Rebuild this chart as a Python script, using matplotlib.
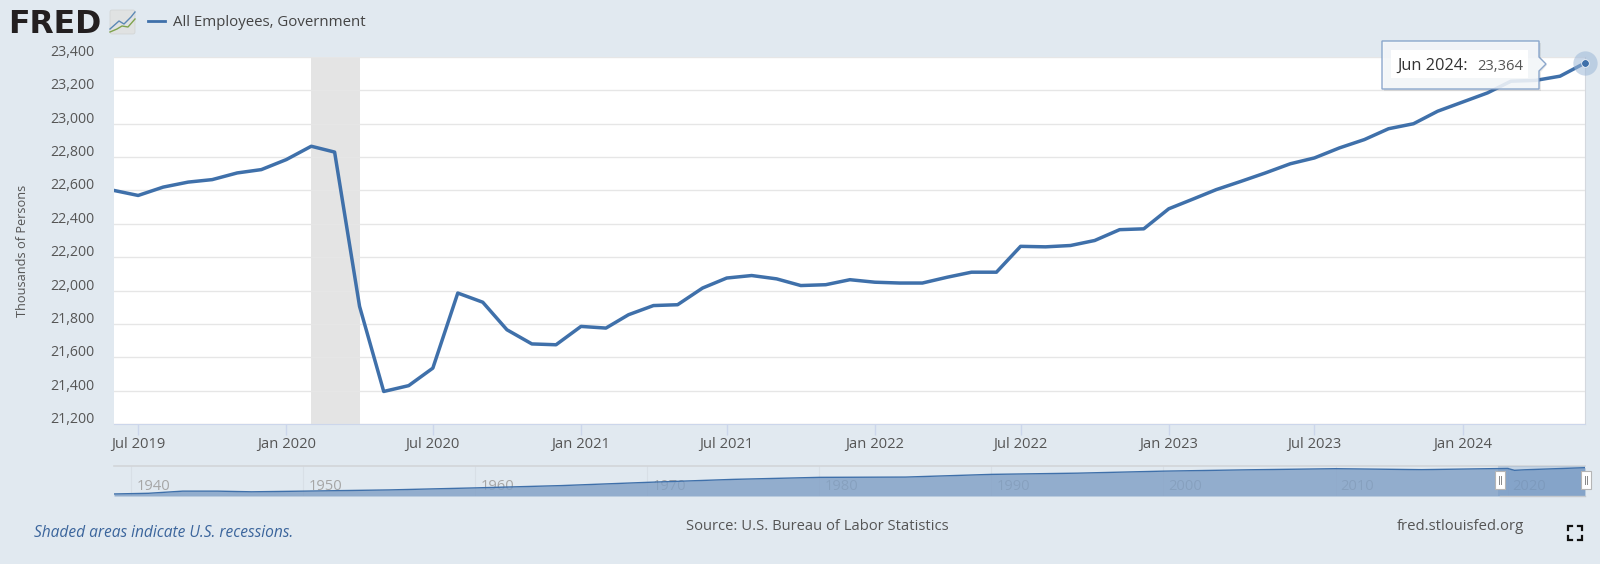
"""
FRED chart: All Employees, Government
"""

import datetime as dt

import matplotlib.dates as mdates
import matplotlib.pyplot as plt
from matplotlib.patches import FancyBboxPatch, Polygon, Rectangle
from matplotlib.transforms import Affine2D

plt.rcParams["font.family"] = ["Open Sans", "DejaVu Sans"]

###############
# - DATA    - #
###############

start_year = 2019
start_month = 6
values = [
    22600, 22570, 22620, 22650, 22665, 22705, 22725,
    22785, 22865, 22830, 21905, 21395, 21430, 21535, 21985, 21930, 21765, 21680, 21675,
    21785, 21775, 21855, 21910, 21915, 22015, 22075, 22090, 22070, 22030, 22035, 22065,
    22050, 22045, 22045, 22080, 22110, 22110, 22265, 22262, 22270, 22300, 22365, 22370,
    22490, 22550, 22605, 22655, 22705, 22760, 22795, 22855, 22905, 22970, 23000, 23075,
    23130, 23185, 23255, 23260, 23285, 23364,
]
y_ticks = [21200, 21400, 21600, 21800, 22000, 22200, 22400, 22600, 22800, 23000, 23200, 23400]
x_ticks = [(2019, 7), (2020, 1), (2020, 7), (2021, 1), (2021, 7), (2022, 1), (2022, 7),
           (2023, 1), (2023, 7), (2024, 1)]
x_labels = ["Jul 2019", "Jan 2020", "Jul 2020", "Jan 2021", "Jul 2021", "Jan 2022", "Jul 2022",
            "Jan 2023", "Jul 2023", "Jan 2024"]
recession = [(2020, 2), (2020, 4)]

# Overview strip (millions of persons)
nav_years = [1939, 1941, 1943, 1945, 1947, 1950, 1955, 1960, 1965, 1970, 1975, 1980, 1985,
             1990, 1995, 2000, 2005, 2010, 2015, 2020, 2020.4, 2021, 2024.5]
nav_values = [3.9, 4.4, 6.0, 6.0, 5.5, 6.0, 6.9, 8.4, 10.1, 12.5, 14.7, 16.2, 16.4,
              18.4, 19.3, 20.8, 21.8, 22.6, 21.9, 22.8, 21.4, 21.8, 23.36]
nav_ticks = [1940, 1950, 1960, 1970, 1980, 1990, 2000, 2010, 2020]

###############
# - STYLE   - #
###############

W, H = 1600, 564
BG = "#e1e9f0"
BLUE = "#3f70aa"
TEXT = "#555555"


def axes_px(fig, left, top, right, bottom, **kwargs):
    return fig.add_axes(
        [left / W, 1 - bottom / H, (right - left) / W, (bottom - top) / H], **kwargs
    )


def year_month(pair):
    return dt.date(pair[0], pair[1], 1)


fig = plt.figure(figsize=(W / 100, H / 100), dpi=100, facecolor=BG)

# - Main plot - #
ax = axes_px(fig, 114, 57, 1585, 424, facecolor="white")
dates = []
y, m = start_year, start_month
for _ in values:
    dates.append(dt.date(y, m, 1))
    m += 1
    if m > 12:
        y, m = y + 1, 1

ax.axvspan(year_month(recession[0]), year_month(recession[1]), color="#e4e4e4", lw=0, zorder=1)
ax.plot(dates, values, color=BLUE, lw=2.5, zorder=3, solid_joinstyle="round")

# End point and its halo
ax.plot(dates[-1], values[-1], "o", ms=17.5, color="#9db8d8", alpha=0.55, mew=0, clip_on=False, zorder=4)
ax.plot(dates[-1], values[-1], "o", ms=5.5, color=BLUE, mec="white", mew=0.5, clip_on=False, zorder=5)

ax.set_xlim(dates[0], dates[-1])
ax.set_ylim(21200, 23400)
ax.set_yticks(y_ticks)
ax.set_yticklabels([f"{v:,}" for v in y_ticks], fontsize=10.2, color=TEXT, va="bottom")
ax.set_xticks([mdates.date2num(year_month(p)) for p in x_ticks])
ax.set_xticklabels(x_labels, fontsize=10.6, color=TEXT)
ax.tick_params(axis="y", length=0, pad=14)
ax.tick_params(axis="x", length=8, width=1, color="#ccd6eb", pad=1.5)
for label in ax.get_yticklabels():
    label.set_transform(label.get_transform() + Affine2D().translate(0, -3))
ax.grid(axis="y", color="#e6e6e6", lw=1, zorder=2)
ax.set_axisbelow(False)
for name in ("top", "left"):
    ax.spines[name].set_visible(False)
ax.spines["bottom"].set_color("#ccd6eb")
ax.spines["right"].set_color("#d4d8de")

# - Overview strip - #
nav = axes_px(fig, 114, 466, 1585, 496, facecolor="none")
nav.set_xlim(1939, 2024.5)
nav.set_ylim(2.4, 24.6)
for year in nav_ticks:
    nav.axvline(year, color="#d8dfe6", lw=0.8, zorder=1)
    nav.annotate(str(year), (year, 0.3), xycoords=("data", "axes fraction"), xytext=(5, 0),
                 textcoords="offset pixels", fontsize=10.6, color="#a6a6a6", va="center", zorder=2)
nav.fill_between(nav_years, nav_values, 2.4, color="#7f9fc5", alpha=0.8, lw=0, zorder=3)
nav.plot(nav_years, nav_values, color=BLUE, lw=1, zorder=4)
nav.axvspan(2019.45, 2024.5, color="#5b86bb", alpha=0.22, lw=0, zorder=3)
nav.set_xticks([])
nav.set_yticks([])
for name in ("left", "right", "bottom"):
    nav.spines[name].set_visible(False)
nav.spines["top"].set_color("#d2d5d9")
nav.spines["top"].set_linewidth(1.2)

# - Page furniture, drawn in pixel coordinates - #
over = fig.add_axes([0, 0, 1, 1], facecolor="none", zorder=10)
over.set_xlim(0, W)
over.set_ylim(H, 0)
over.axis("off")

# Y axis title
over.text(23, 251, "Thousands of Persons", fontsize=9.2, color=TEXT, rotation=90, va="center", ha="center")

# Logo
over.text(8, 33, "FRED", fontsize=22.7, fontweight="bold", color="#231f20", va="baseline",
          family="DejaVu Sans")
over.add_patch(FancyBboxPatch((110, 10), 25, 24, boxstyle="round,pad=0,rounding_size=2",
                              fc="#e0e2e2", ec="#d0d3d3", lw=0.5))
over.plot([110, 119, 124, 131, 135], [29, 21, 24, 17, 12], color="#5b88b5", lw=1)
over.plot([110, 117, 122, 128, 135], [32, 29, 26, 27, 19], color="#7fa34d", lw=1)

# Legend
over.plot([148, 165], [21, 21], color=BLUE, lw=2)
over.text(173, 23, "All Employees, Government", fontsize=10.8, color="#444444", va="center")

# Overview handles
for hx in (1500, 1586):
    over.add_patch(Rectangle((hx - 5, 471), 10, 18, fc="white", ec="#b5b5b5", lw=0.8))
    over.plot([hx - 1, hx - 1], [476, 484], color="#888888", lw=0.7)
    over.plot([hx + 1, hx + 1], [476, 484], color="#888888", lw=0.7)
over.plot([1500, 1585], [496, 496], color="#c5c9ce", lw=1)

# Tooltip
over.add_patch(Polygon([(1384, 43), (1541, 43), (1541, 58), (1547, 65), (1541, 72), (1541, 91), (1384, 91)],
                       fc="#3a3a3a", alpha=0.10, lw=0))
over.add_patch(Polygon([(1382, 41), (1539, 41), (1539, 57), (1546, 64), (1539, 71), (1539, 89), (1382, 89)],
                       fc="#f5f8fb", ec="#7d9cc6", lw=1.0, alpha=0.88))
over.add_patch(Rectangle((1391, 50), 137, 28, fc="white", lw=0))
over.text(1397, 66, "Jun 2024:", fontsize=11.8, fontweight="medium", color="#333333", va="center")
over.text(1477, 66, "23,364", fontsize=10.6, color="#555555", va="center")

# Footer
over.text(34, 533, "Shaded areas indicate U.S. recessions.", fontsize=11.2, style="italic",
          color="#3b659c", va="center")
over.text(817, 527, "Source: U.S. Bureau of Labor Statistics", fontsize=10.6, color=TEXT, va="center", ha="center")
over.text(1397, 527, "fred.stlouisfed.org", fontsize=10.7, color=TEXT, va="center")

# Fullscreen icon
for cx, cy, sx, sy in [(1568, 526, 1, 1), (1582, 526, -1, 1), (1568, 540, 1, -1), (1582, 540, -1, -1)]:
    over.plot([cx, cx, cx + 4 * sx], [cy + 4 * sy, cy, cy], color="#111111", lw=1.6,
              solid_joinstyle="miter")

fig.savefig("out.png", dpi=100, facecolor=BG)
